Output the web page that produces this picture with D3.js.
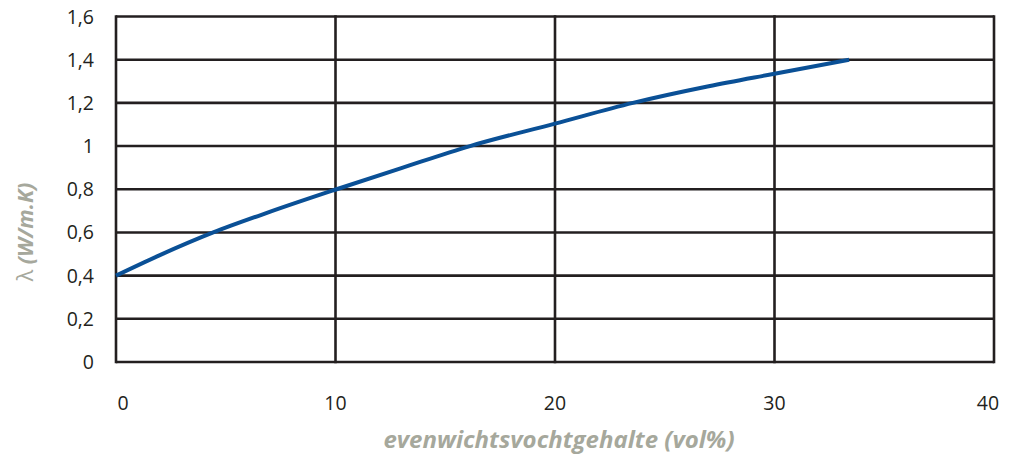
<!DOCTYPE html>
<html>
<head>
<meta charset="utf-8">
<script src="https://cdn.jsdelivr.net/npm/d3@7"></script>
<style>
  html, body { margin: 0; padding: 0; background: #fff; }
  svg text { font-family: "Open Sans", "Noto Sans", sans-serif; }
</style>
</head>
<body>
<svg id="chart" width="1010" height="458"></svg>
<script>
// Moisture content (vol%) and thermal conductivity λ (W/m.K)
const moisture = [0, 2, 4.43, 7, 10.05, 13, 16.13, 20, 23.55, 27, 30, 33.4];
const lambda   = [0.4, 0.495, 0.6, 0.695, 0.8, 0.898, 1.0, 1.104, 1.2, 1.277, 1.335, 1.4];

const xTicks = [0, 10, 20, 30, 40];
const yTicks = [0, 0.2, 0.4, 0.6, 0.8, 1, 1.2, 1.4, 1.6];

const xTitle = "evenwichtsvochtgehalte (vol%)";
const yTitle = "(W/m.K)";

const svg = d3.select("#chart");
const m = { left: 116, right: 994, top: 16.5, bottom: 362 };

const x = d3.scaleLinear().domain([0, 40]).range([m.left, m.right]);
const y = d3.scaleLinear().domain([0, 1.6]).range([m.bottom, m.top]);

const gridColor = "#231f20";

// horizontal grid lines
svg.append("g").selectAll("line").data(yTicks).join("line")
  .attr("x1", m.left).attr("x2", m.right)
  .attr("y1", d => y(d)).attr("y2", d => y(d))
  .attr("stroke", gridColor).attr("stroke-width", 2.6);

// vertical grid lines
svg.append("g").selectAll("line").data(xTicks).join("line")
  .attr("x1", d => x(d)).attr("x2", d => x(d))
  .attr("y1", m.top - 1.3).attr("y2", m.bottom + 1.3)
  .attr("stroke", gridColor).attr("stroke-width", 2.6);

const fmt = d => String(d).replace(".", ",");

// y tick labels
svg.append("g").selectAll("text").data(yTicks).join("text")
  .attr("x", 94).attr("y", d => y(d))
  .attr("dy", "0.36em")
  .attr("text-anchor", "end")
  .attr("font-size", 19.5)
  .attr("fill", "#231f20")
  .text(fmt);

// x tick labels (outer ones nudged inward)
svg.append("g").selectAll("text").data(xTicks).join("text")
  .attr("x", (d, i) => x(d) + (i === 0 ? 7 : i === xTicks.length - 1 ? -6 : 0))
  .attr("y", 403)
  .attr("dy", "0.36em")
  .attr("text-anchor", "middle")
  .attr("font-size", 19.5)
  .attr("fill", "#231f20")
  .text(fmt);

// axis titles
svg.append("text")
  .attr("x", 559).attr("y", 448)
  .attr("text-anchor", "middle")
  .attr("font-size", 24)
  .attr("font-weight", "bold")
  .attr("font-style", "italic")
  .attr("fill", "#a6a89c")
  .text(xTitle);

const yt = svg.append("text")
  .attr("transform", "translate(33,232) rotate(-90)")
  .attr("text-anchor", "middle")
  .attr("font-size", 21.5)
  .attr("fill", "#a6a89c");
yt.append("tspan").attr("font-weight", "normal").text("λ ");
yt.append("tspan").attr("font-weight", "bold").attr("font-style", "italic").text(yTitle);

// conductivity curve
const pts = moisture.map((v, i) => [v, lambda[i]]);
const line = d3.line()
  .x(d => x(d[0]))
  .y(d => y(d[1]))
  .curve(d3.curveMonotoneX);

svg.append("path")
  .datum(pts)
  .attr("d", line)
  .attr("fill", "none")
  .attr("stroke", "#0a5096")
  .attr("stroke-width", 4);
</script>
</body>
</html>
